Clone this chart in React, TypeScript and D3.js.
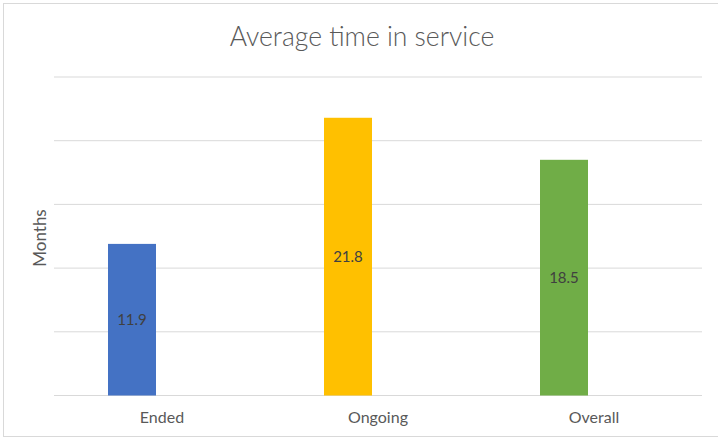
import React from "react";
import * as d3 from "d3";

// Average months in service per group
const categories = ["Ended", "Ongoing", "Overall"];
const values = [11.9, 21.8, 18.5];
const barColors = ["#4472C4", "#FFC000", "#70AD47"];
// Each group has a slot for a second (empty) series, so bars sit left of the label
const seriesKeys = ["months", "spare"];
const yTicks = [0, 5, 10, 15, 20, 25];

const W = 718;
const H = 439;
const plot = { left: 54, right: 702, top: 77, bottom: 395.5 };
const FONT = "Lato, 'Open Sans', sans-serif";

export default function App() {
  const x0 = d3
    .scaleBand<string>()
    .domain(categories)
    .range([plot.left, plot.right])
    .padding(0);
  const x1 = d3
    .scaleBand<string>()
    .domain(seriesKeys)
    .range([0, x0.bandwidth()])
    .paddingInner(0.2)
    .paddingOuter(0.9);
  const y = d3.scaleLinear().domain([0, 25]).range([plot.bottom, plot.top]);

  return (
    <svg
      width={W}
      height={H}
      style={{ position: "absolute", left: 0, top: 0, background: "#fff" }}
      fontFamily={FONT}
    >
      <rect x={3.5} y={3.5} width={716} height={433} fill="#fff" stroke="#d9d9d9" />
      <text
        x={362}
        y={46}
        textAnchor="middle"
        fontSize={26.5}
        fontWeight={300}
        fill="#595959"
      >
        Average time in service
      </text>
      {yTicks.map((t) => (
        <line
          key={t}
          x1={plot.left}
          x2={plot.right}
          y1={y(t)}
          y2={y(t)}
          stroke="#d9d9d9"
          strokeWidth={1}
        />
      ))}
      {categories.map((c, i) => {
        const bx = (x0(c) ?? 0) + (x1("months") ?? 0);
        const top = y(values[i]);
        return (
          <g key={c}>
            <rect
              x={bx}
              y={top}
              width={x1.bandwidth()}
              height={y(0) - top}
              fill={barColors[i]}
            />
            <text
              x={bx + x1.bandwidth() / 2}
              y={(top + y(0)) / 2}
              dy="0.35em"
              textAnchor="middle"
              fontSize={15}
              fill="#404040"
            >
              {values[i].toFixed(1)}
            </text>
            <text
              x={(x0(c) ?? 0) + x0.bandwidth() / 2}
              y={423}
              textAnchor="middle"
              fontSize={16}
              fill="#595959"
            >
              {c}
            </text>
          </g>
        );
      })}
      <text
        transform={`translate(46,238) rotate(-90)`}
        textAnchor="middle"
        fontSize={17}
        fill="#595959"
      >
        Months
      </text>
    </svg>
  );
}
